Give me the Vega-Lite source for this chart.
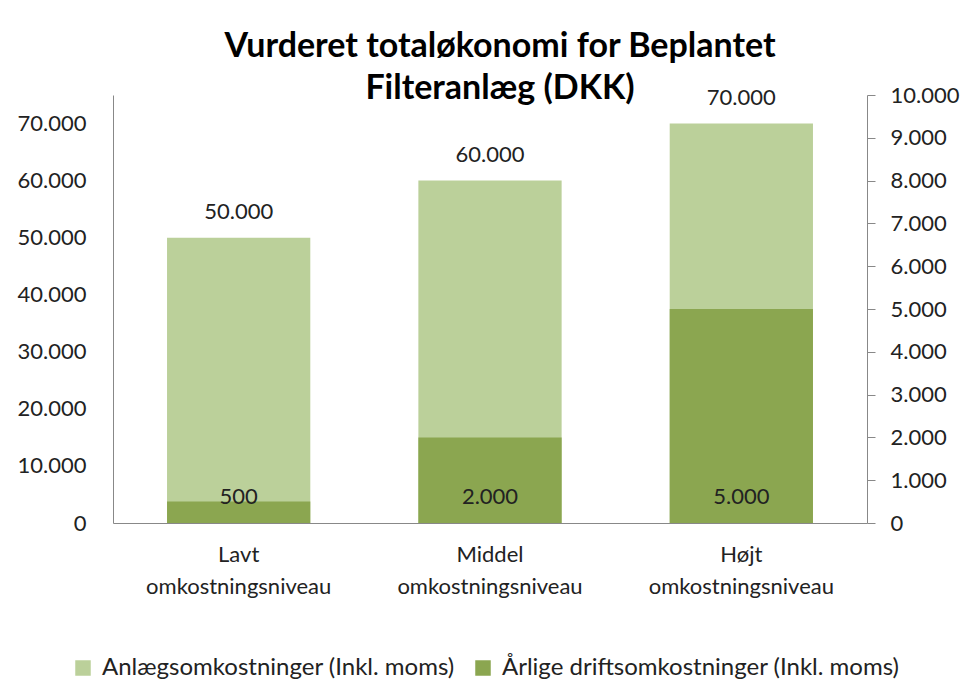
{
  "$schema": "https://vega.github.io/schema/vega-lite/v6.json",
  "width": 754,
  "height": 428,
  "autosize": {"type": "none"},
  "padding": {"left": 113, "top": 95, "right": 98, "bottom": 161},
  "background": "white",
  "config": {
    "locale": {"number": {"decimal": ",", "thousands": ".", "grouping": [3], "currency": ["", " kr."]}},
    "font": "Lato",
    "view": {"stroke": null},
    "axis": {"grid": false, "labelFont": "Lato", "labelFontSize": 22, "labelColor": "#222", "domainColor": "#888", "tickColor": "#888", "title": null, "labelLimit": 400}
  },
  "data": {
    "values": [
      {"niveau": "Lavt omkostningsniveau", "anlaeg": 50000, "drift": 500},
      {"niveau": "Middel omkostningsniveau", "anlaeg": 60000, "drift": 2000},
      {"niveau": "Højt omkostningsniveau", "anlaeg": 70000, "drift": 5000}
    ]
  },
  "title": {
    "text": ["Vurderet totaløkonomi for Beplantet", "Filteranlæg (DKK)"],
    "font": "Lato",
    "fontSize": 34,
    "fontWeight": "bold",
    "color": "#000",
    "anchor": "middle",
    "dx": 10,
    "dy": 4,
    "lineHeight": 42,
    "offset": -18
  },
  "encoding": {
    "x": {
      "field": "niveau",
      "type": "nominal",
      "sort": null,
      "scale": {"paddingInner": 0.43, "paddingOuter": 0.215},
      "axis": {"labelExpr": "split(datum.label, ' ')", "labelAngle": 0, "ticks": false, "labelPadding": 21, "labelLineHeight": 32, "labelBaseline": "top", "labelLimit": 400}
    }
  },
  "layer": [
    {
      "layer": [
        {
          "mark": {"type": "bar"},
          "encoding": {
            "y": {"field": "anlaeg", "type": "quantitative", "scale": {"domain": [0, 75000], "nice": false},
              "axis": {"orient": "left", "ticks": false, "labelPadding": 27, "values": [0, 10000, 20000, 30000, 40000, 50000, 60000, 70000], "format": ",.0f"}},
            "color": {"datum": "Anlægsomkostninger (Inkl. moms)", "type": "nominal",
              "scale": {"domain": ["Anlægsomkostninger (Inkl. moms)", "Årlige driftsomkostninger (Inkl. moms)"], "range": ["#BBD09A", "#8BA650"]},
              "legend": {"orient": "none", "legendX": -42, "legendY": 561, "direction": "horizontal", "title": null, "symbolType": "square", "symbolSize": 240, "symbolStrokeWidth": 0, "labelFont": "Lato", "labelFontSize": 24, "labelColor": "#222", "labelOffset": 7, "columnPadding": 16, "labelLimit": 500}}
          }
        },
        {
          "mark": {"type": "text", "baseline": "middle", "dy": -26, "fontSize": 22, "font": "Lato", "color": "#222"},
          "encoding": {
            "y": {"field": "anlaeg", "type": "quantitative"},
            "text": {"field": "anlaeg", "type": "quantitative", "format": ",.0f"}
          }
        }
      ]
    },
    {
      "layer": [
        {
          "mark": {"type": "bar"},
          "encoding": {
            "y": {"field": "drift", "type": "quantitative", "scale": {"domain": [0, 10000], "nice": false},
              "axis": {"orient": "right", "ticks": true, "tickSize": 8, "labelPadding": 15, "values": [0, 1000, 2000, 3000, 4000, 5000, 6000, 7000, 8000, 9000, 10000], "format": ",.0f"}},
            "color": {"datum": "Årlige driftsomkostninger (Inkl. moms)", "type": "nominal"}
          }
        },
        {
          "mark": {"type": "text", "baseline": "middle", "dy": -26, "fontSize": 22, "font": "Lato", "color": "#222"},
          "encoding": {
            "y": {"datum": 0, "type": "quantitative"},
            "text": {"field": "drift", "type": "quantitative", "format": ",.0f"}
          }
        }
      ]
    }
  ],
  "resolve": {"scale": {"y": "independent"}}
}
